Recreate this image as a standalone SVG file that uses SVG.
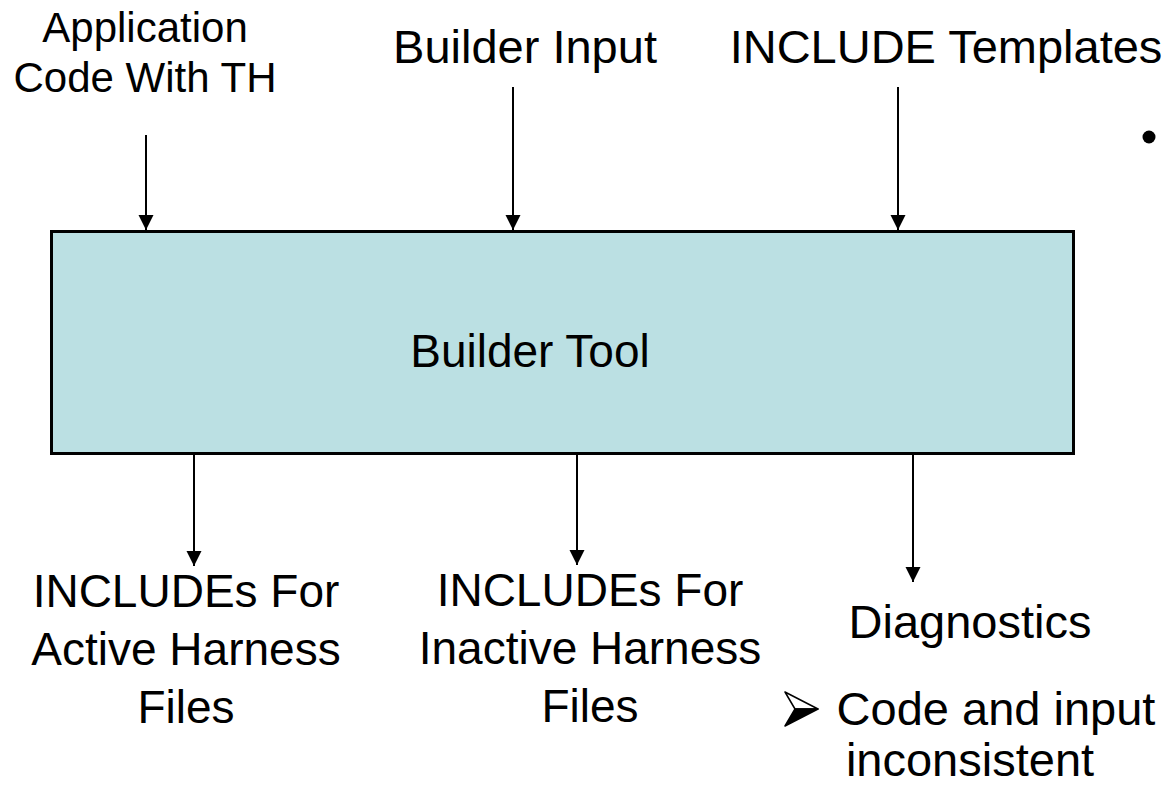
<svg xmlns="http://www.w3.org/2000/svg" width="1170" height="786" viewBox="0 0 1170 786">
  <style>
    text { font-family: "Liberation Sans", Arial, sans-serif; fill: #000; text-anchor: middle; }
    .t42 { font-size: 42px; }
    .t47 { font-size: 47px; }
    .t46 { font-size: 46px; }
    .conn line { stroke: #000; stroke-width: 2; marker-end: url(#head); }
  </style>
  <defs>
    <marker id="head" markerUnits="userSpaceOnUse" markerWidth="16" markerHeight="16" viewBox="0 0 16 16" refX="15" refY="8" orient="auto">
      <polygon points="0,0.5 15,8 0,15.5" fill="#000"/>
    </marker>
  </defs>

  <rect width="1170" height="786" fill="#fff"/>

  <!-- inputs -->
  <g id="app-code">
    <text class="t42" x="145" y="42">Application</text>
    <text class="t42" x="145" y="92">Code With TH</text>
  </g>
  <g id="builder-input">
    <text class="t47" x="525" y="63">Builder Input</text>
  </g>
  <g id="include-templates">
    <text class="t47" x="946" y="63">INCLUDE Templates</text>
  </g>
  <g id="bullet">
    <circle cx="1149" cy="137" r="6.5" fill="#000"/>
  </g>

  <!-- main tool -->
  <g id="builder-tool">
    <rect x="51.5" y="231.5" width="1022" height="222" fill="#bbe0e3" stroke="#000" stroke-width="3"/>
    <text class="t46" x="530" y="367">Builder Tool</text>
  </g>

  <!-- outputs -->
  <g id="active-includes">
    <text class="t46" x="186" y="607">INCLUDEs For</text>
    <text class="t46" x="186" y="665">Active Harness</text>
    <text class="t46" x="186" y="723">Files</text>
  </g>
  <g id="inactive-includes">
    <text class="t46" x="590" y="606">INCLUDEs For</text>
    <text class="t46" x="590" y="664">Inactive Harness</text>
    <text class="t46" x="590" y="722">Files</text>
  </g>
  <g id="diagnostics">
    <text class="t47" x="970" y="638">Diagnostics</text>
    <!-- 3D arrowhead bullet -->
    <polygon points="785,692 818,709 795,709" fill="#fff" stroke="#000" stroke-width="1.5" stroke-linejoin="round"/>
    <polygon points="785,726 818,709 795,709" fill="#000" stroke="#000" stroke-width="1.5" stroke-linejoin="round"/>
    <text class="t47" x="996" y="725">Code and input</text>
    <text class="t47" x="970" y="776">inconsistent</text>
  </g>

  <!-- connectors -->
  <g id="connectors" class="conn">
    <line x1="146" y1="135" x2="146" y2="230"/>
    <line x1="513" y1="87" x2="513" y2="230"/>
    <line x1="898" y1="87" x2="898" y2="230"/>
    <line x1="194" y1="455" x2="194" y2="566"/>
    <line x1="577" y1="455" x2="577" y2="565"/>
    <line x1="913" y1="455" x2="913" y2="582"/>
  </g>
</svg>
